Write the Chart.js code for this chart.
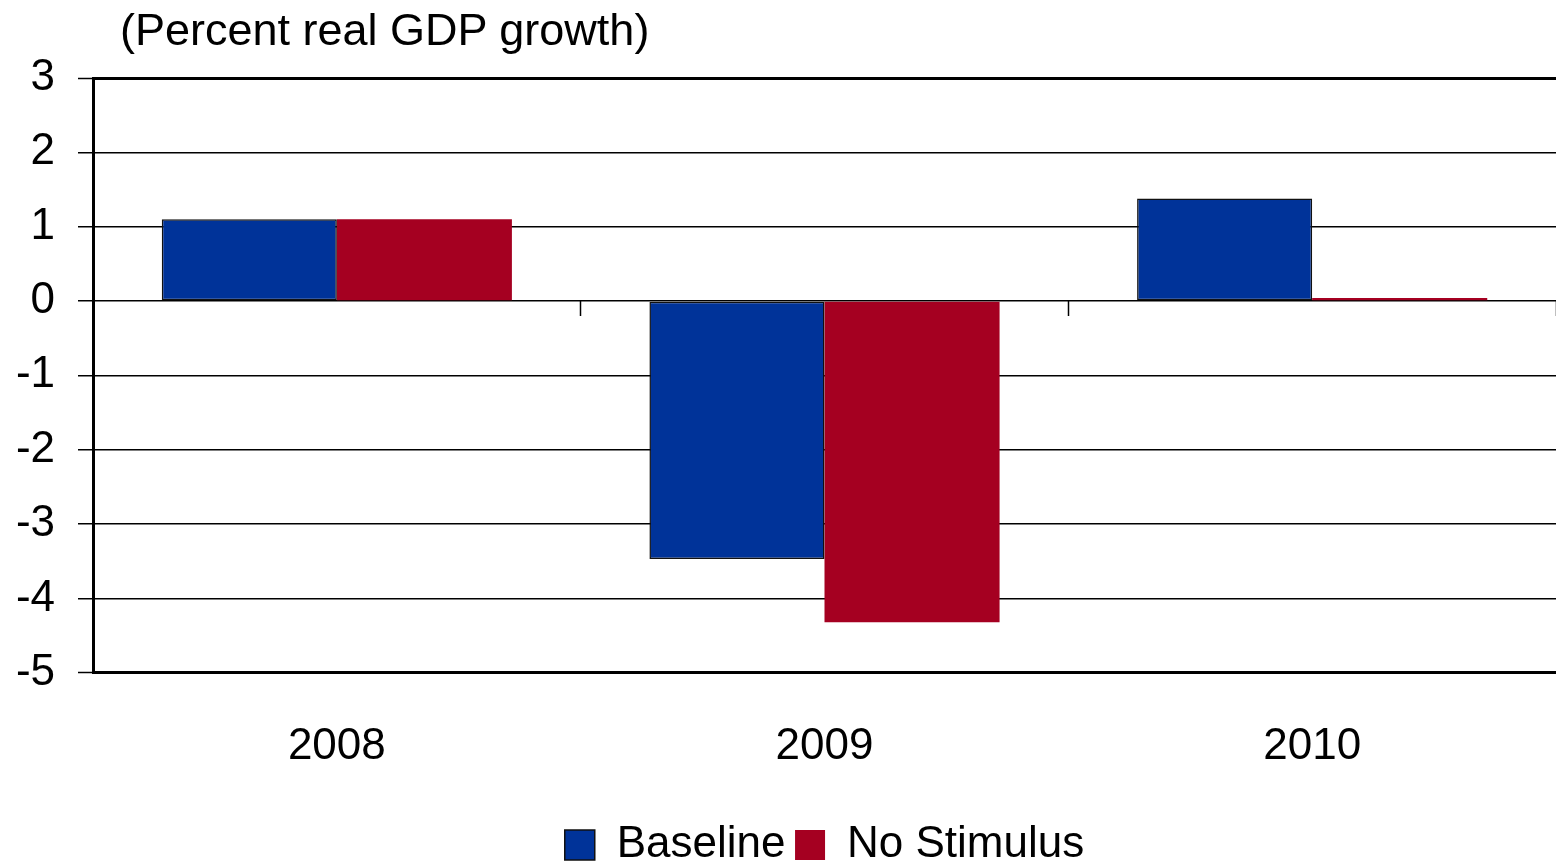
<!DOCTYPE html>
<html lang="en">
<head>
    <meta charset="UTF-8">
    <title>Percent real GDP growth</title>
    <style>
        html, body {
            margin: 0;
            padding: 0;
            background: #fff;
            overflow: hidden;
        }

        .wrap {
            position: relative;
            width: 1556px;
            height: 877px;
        }

        /* unit label sits above the plot, like the original */
        .unit-label {
            position: absolute;
            left: 120px;
            top: 7px;
            font-family: "Liberation Sans", Arial, sans-serif;
            font-size: 45px;
            line-height: 45px;
            color: #000;
        }
    </style>
</head>
<body>
    <div class="wrap">
        <div class="unit-label">(Percent real GDP growth)</div>
        <canvas id="gdpChart" width="1556" height="877"></canvas>
    </div>

    <script src="https://cdn.jsdelivr.net/npm/chart.js"></script>
    <script>
        // categories and series
        const years = ['2008', '2009', '2010'];
        const baseline = [1.1, -3.47, 1.38];
        const noStimulus = [1.1, -4.32, 0.04];

        // y axis range
        const yMin = -5;
        const yMax = 3;

        const font = { family: '"Liberation Sans", Arial, sans-serif', size: 44 };

        const ctx = document.getElementById('gdpChart').getContext('2d');
        new Chart(ctx, {
            type: 'bar',
            data: {
                labels: years,
                datasets: [{
                    label: 'Baseline',
                    data: baseline,
                    backgroundColor: '#003399',
                    borderColor: '#111',
                    borderWidth: 1.5,
                    borderSkipped: false
                }, {
                    label: 'No Stimulus',
                    data: noStimulus,
                    backgroundColor: '#A50021',
                    borderWidth: 0
                }]
            },
            options: {
                responsive: false,
                animation: false,
                categoryPercentage: 0.718,
                barPercentage: 1.0,
                layout: {
                    padding: { top: 78, left: 0, right: 0, bottom: 0 }
                },
                scales: {
                    x: {
                        grid: { display: false },
                        border: { display: false },
                        ticks: {
                            color: '#000',
                            font: font,
                            padding: 40
                        }
                    },
                    // second category axis sitting on the zero line, just for the tick marks
                    xZero: {
                        type: 'category',
                        position: { y: 0 },
                        grid: {
                            offset: true,
                            drawOnChartArea: false,
                            drawTicks: true,
                            tickLength: 15,
                            tickWidth: 1.5,
                            tickColor: c => (c.index === 0 || c.index === years.length) ? 'rgba(0,0,0,0)' : '#000'
                        },
                        border: { display: false },
                        ticks: { display: false }
                    },
                    y: {
                        min: yMin,
                        max: yMax,
                        afterFit: s => { s.width = 93; },
                        ticks: {
                            stepSize: 1,
                            color: '#000',
                            font: font,
                            padding: 23
                        },
                        grid: {
                            color: '#000',
                            lineWidth: c => (c.tick && (c.tick.value === yMin || c.tick.value === yMax)) ? 3 : 1.5,
                            tickLength: 15,
                            tickWidth: 1.5,
                            tickColor: '#000'
                        },
                        border: { color: '#000', width: 3 }
                    }
                },
                plugins: {
                    legend: {
                        position: 'bottom',
                        fullSize: false,
                        labels: {
                            color: '#000',
                            font: font,
                            boxWidth: 30,
                            boxHeight: 30,
                            padding: 9.5
                        }
                    },
                    tooltip: { enabled: false }
                }
            }
        });
    </script>
</body>
</html>
